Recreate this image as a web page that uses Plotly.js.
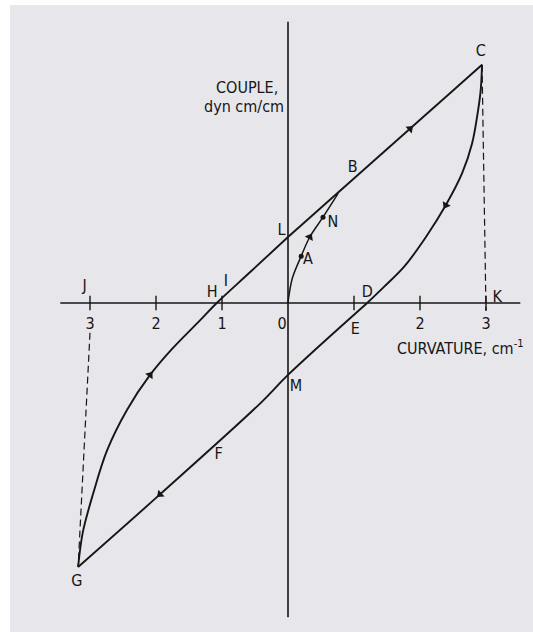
<!DOCTYPE html>
<html><head><meta charset="utf-8">
<script src="https://cdn.plot.ly/plotly-3.0.1.min.js"></script>
<style>html,body{margin:0;padding:0;background:#fff;}#chart{width:533px;height:632px;}</style>
</head><body><div id="chart"></div>
<script>
// initial loading curve O -> A -> N -> joins line near B
const initX = [0, 0.02, 0.07, 0.20, 0.33, 0.53, 0.76];
const initY = [0, 0.15, 0.39, 0.71, 1.00, 1.30, 1.66];
// ascending branch G -> H -> L -> B -> C
const upX = [-3.18, -3.11, -2.95, -2.74, -2.44, -2.09, -1.77, -1.33, -1.08, -0.56, 0.00, 0.79, 1.85, 2.94];
const upY = [-4.00, -3.48, -2.88, -2.23, -1.62, -1.09, -0.71, -0.26, 0.00, 0.48, 1.00, 1.70, 2.64, 3.61];
// descending branch C -> D -> E -> M -> F -> G
const downX = [2.94, 2.92, 2.88, 2.79, 2.64, 2.39, 2.09, 1.76, 1.45, 1.20, 0.00, -0.42, -1.94, -3.18];
const downY = [3.61, 3.23, 2.92, 2.42, 1.97, 1.48, 1.00, 0.55, 0.24, 0.00, -1.09, -1.52, -2.90, -4.00];
// index where each branch switches between curved and straight parts (L and D)
const upBreak = 10;
const downBreak = 9;

// x-axis ticks (curvature, cm^-1)
const tickVals = [-3, -2, -1, 1, 2, 3];
const tickLabelVals = [-3, -2, -1, 0, 2, 3];
const tickLabels = ['3', '2', '1', '0', '2', '3'];

// point labels
const labelText = ['C', 'B', 'L', 'N', 'A', 'H', 'I', 'J', 'D', 'K', 'E', 'M', 'F', 'G'];
const labelX = [2.92, 0.98, -0.10, 0.68, 0.30, -1.15, -0.94, -3.08, 1.20, 3.17, 1.02, 0.12, -1.05, -3.20];
const labelY = [3.80, 2.05, 1.09, 1.21, 0.65, 0.15, 0.32, 0.24, 0.15, 0.08, -0.41, -1.27, -2.30, -4.23];

// direction arrows: which curve, which point
const arrowSpec = [['up', 5], ['up', 12], ['down', 5], ['down', 12], ['init', 4]];
// marked points (small dots) on initial curve: A and N
const dotIdx = [3, 5];

const curves = {up: [upX, upY], down: [downX, downY], init: [initX, initY]};
const ink = '#161616';
const font = {family: 'DejaVu Sans Condensed, DejaVu Sans, sans-serif', size: 16, color: '#161616'};
const traces = [];
const skip = 'skip';

// axes
traces.push({x: [-3.45, 3.52], y: [0, 0], mode: 'lines', line: {color: ink, width: 1.6}, hoverinfo: skip});
traces.push({x: [0, 0], y: [-4.76, 4.26], mode: 'lines', line: {color: ink, width: 1.6}, hoverinfo: skip});
// tick marks
tickVals.forEach(v => traces.push({x: [v, v], y: [-0.11, 0.11], mode: 'lines', line: {color: ink, width: 1.4}, hoverinfo: skip}));
// dashed verticals J-G and C-K
traces.push({x: [tickVals[0], upX[0]], y: [-0.45, upY[0]], mode: 'lines', line: {color: ink, width: 1.2, dash: '7px,4px'}, hoverinfo: skip});
traces.push({x: [downX[0], tickVals[tickVals.length - 1]], y: [downY[0], -0.12], mode: 'lines', line: {color: ink, width: 1.2, dash: '7px,4px'}, hoverinfo: skip});

// curves: curved parts as splines, straight parts as lines
function seg(xs, ys, a, b, shape) {
  return {x: xs.slice(a, b + 1), y: ys.slice(a, b + 1), mode: 'lines', hoverinfo: skip,
    line: {color: ink, width: 1.9, shape: shape, smoothing: 1}};
}
traces.push(seg(upX, upY, 0, upBreak, 'spline'));
traces.push(seg(upX, upY, upBreak, upX.length - 1, 'linear'));
traces.push(seg(downX, downY, 0, downBreak, 'spline'));
traces.push(seg(downX, downY, downBreak, downX.length - 1, 'spline'));
const initTrace = seg(initX, initY, 0, initX.length - 1, 'spline');
initTrace.line.width = 1.5;
traces.push(initTrace);

// arrows
const ax = [], ay = [], ang = [];
arrowSpec.forEach(([k, i]) => {
  const [cx, cy] = curves[k];
  ax.push(cx[i]); ay.push(cy[i]);
  const dx = cx[i + 1] - cx[i - 1], dy = cy[i + 1] - cy[i - 1];
  ang.push(Math.atan2(dx, dy) * 180 / Math.PI);
});
traces.push({x: ax, y: ay, mode: 'markers', marker: {symbol: 'triangle-up', size: 8, color: ink, angle: ang}, hoverinfo: skip});

// dots A and N
traces.push({x: dotIdx.map(i => initX[i]), y: dotIdx.map(i => initY[i]), mode: 'markers',
  marker: {symbol: 'circle', size: 5, color: ink}, hoverinfo: skip});

// tick labels
traces.push({x: tickLabelVals.map(v => v === 0 ? -0.09 : v), y: tickLabelVals.map(() => -0.33), mode: 'text',
  text: tickLabels, textfont: font, textposition: 'middle center', hoverinfo: skip});
// point labels
traces.push({x: labelX, y: labelY, mode: 'text', text: labelText, textfont: font, textposition: 'middle center', hoverinfo: skip});

const layout = {
  width: 533, height: 632,
  margin: {l: 10, r: 0, t: 5, b: 0},
  paper_bgcolor: '#ffffff', plot_bgcolor: '#e6e6eb',
  showlegend: false,
  xaxis: {range: [-4.2121, 3.7121], visible: false, fixedrange: true},
  yaxis: {range: [-4.9848, 4.5152], visible: false, fixedrange: true},
  annotations: [
    {x: -0.62, y: 3.27, xref: 'x', yref: 'y', text: 'COUPLE,', showarrow: false, font: font},
    {x: -0.66, y: 2.97, xref: 'x', yref: 'y', text: 'dyn cm/cm', showarrow: false, font: font},
    {x: 2.62, y: -0.68, xref: 'x', yref: 'y', text: 'CURVATURE, cm<sup>-1</sup>', showarrow: false, font: font}
  ]
};
Plotly.newPlot('chart', traces, layout, {staticPlot: true, displayModeBar: false});
</script></body></html>
